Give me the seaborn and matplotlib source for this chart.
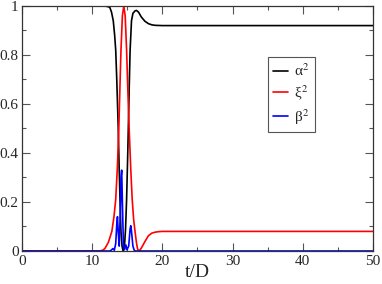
import matplotlib
matplotlib.use("Agg")
import matplotlib.pyplot as plt
import seaborn as sns
import pandas as pd
from matplotlib.ticker import MultipleLocator

# alpha^2 (black)
t_alpha = [0, 11.0, 12.0, 12.5, 12.75, 13.0, 13.2, 13.35, 13.5, 13.7, 13.85, 13.96,
           14.1, 14.25, 14.4, 14.6, 14.75, 14.9, 15.05, 15.15, 15.3, 15.4, 15.6,
           15.8, 16.1, 16.3, 16.6, 17.0, 17.5, 18.0, 18.5, 19.0, 20, 50]
alpha_sq = [1.0, 1.0, 0.999, 0.995, 0.975, 0.94, 0.88, 0.82, 0.7, 0.51, 0.33, 0.21,
            0.08, 0.02, 0.0, 0.02, 0.09, 0.21, 0.38, 0.51, 0.7, 0.82, 0.94,
            0.97, 0.98, 0.982, 0.975, 0.955, 0.938, 0.928, 0.923, 0.921, 0.92, 0.92]

# xi^2 (red)
t_xi = [0, 11.0, 11.5, 11.8, 12.3, 12.8, 13.1, 13.35, 13.6, 13.8, 14.0, 14.1,
        14.3, 14.5, 14.7, 14.9, 15.05, 15.25, 15.5, 15.7, 15.9, 16.1, 16.3,
        16.45, 16.6, 16.8, 17.0, 17.5, 18.0, 18.5, 19.0, 19.5, 20, 50]
xi_sq = [0.0, 0.0, 0.003, 0.01, 0.035, 0.08, 0.14, 0.21, 0.35, 0.51, 0.72, 0.82,
         0.96, 1.0, 0.96, 0.82, 0.68, 0.51, 0.33, 0.21, 0.13, 0.08, 0.035,
         0.01, 0.0, 0.004, 0.012, 0.038, 0.062, 0.073, 0.077, 0.079, 0.08, 0.08]

# beta^2 (blue)
t_beta = [0, 12.5, 12.75, 12.95, 13.15, 13.35, 13.5, 13.6, 13.7, 13.85, 14.05, 14.1,
          14.2, 14.3, 14.45, 14.6, 14.8, 14.95, 15.2, 15.4, 15.5, 15.6, 15.8,
          16.0, 16.2, 50]
beta_sq = [0.0, 0.0, 0.004, 0.01, 0.003, 0.03, 0.11, 0.14, 0.08, 0.02, 0.2, 0.3,
           0.33, 0.2, 0.02, 0.005, 0.025, 0.005, 0.02, 0.09, 0.103, 0.08, 0.02,
           0.002, 0.0, 0.0]

x_ticks = [0, 10, 20, 30, 40, 50]
y_ticks = [0, 0.2, 0.4, 0.6, 0.8, 1]
y_tick_labels = ["0", "0.2", "0.4", "0.6", "0.8", "1"]

sns.set_style("ticks")
plt.rcParams["font.family"] = ["Liberation Serif", "DejaVu Serif"]
plt.rcParams["mathtext.fontset"] = "stix"

fig = plt.figure(figsize=(3.82, 2.84), dpi=100)
ax = fig.add_axes([0.0576, 0.1162, 0.9188, 0.8627])

series = [
    (t_alpha, alpha_sq, "black", "α$^2$"),
    (t_xi, xi_sq, "red", "ξ$^2$"),
    (t_beta, beta_sq, "blue", "β$^2$"),
]
for t, v, color, label in series:
    df = pd.DataFrame({"t": t, "v": v})
    sns.lineplot(data=df, x="t", y="v", color=color, lw=1.2, label=label, ax=ax)

ax.set_xlim(0, 50)
ax.set_ylim(0, 1)
ax.set_xticks(x_ticks)
ax.set_xticklabels([str(x) for x in x_ticks])
ax.set_yticks(y_ticks)
ax.set_yticklabels(y_tick_labels)
ax.xaxis.set_minor_locator(MultipleLocator(5))
ax.yaxis.set_minor_locator(MultipleLocator(0.1))
ax.tick_params(which="both", direction="in", top=True, right=True,
               labelsize=11, color="#555555")
ax.tick_params(axis="x", pad=3)
ax.tick_params(axis="y", pad=2.5)
ax.tick_params(which="major", length=6, width=0.8)
ax.tick_params(which="minor", length=3, width=0.8)
for s in ax.spines.values():
    s.set_color("#333333")
    s.set_linewidth(0.9)

ax.set_xlabel("t/D", fontsize=14, labelpad=-3)
ax.set_ylabel("")

leg = ax.legend(loc="upper left", bbox_to_anchor=(0.70, 0.792), borderaxespad=0,
                fontsize=11, handlelength=1.0, handletextpad=0.4, borderpad=0.35,
                labelspacing=0.3, fancybox=False, framealpha=1)
leg.get_frame().set_edgecolor("#555555")
leg.get_frame().set_linewidth(0.8)

fig.savefig("out.png", dpi=100)
